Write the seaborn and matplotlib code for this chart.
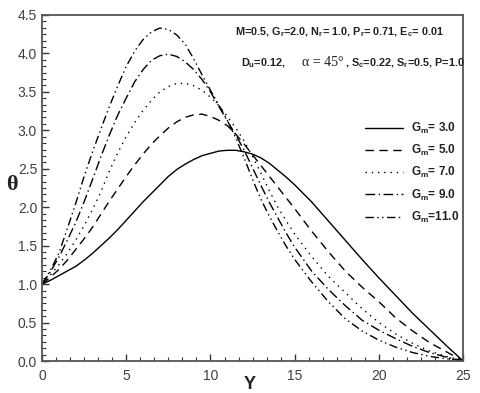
import numpy as np
import pandas as pd
import matplotlib
matplotlib.use('Agg')
import matplotlib.pyplot as plt
from matplotlib.ticker import MultipleLocator, FormatStrFormatter
import seaborn as sns

# values
y_pos = [0, 0.5, 1, 1.5, 2, 2.5, 3, 3.5, 4, 4.5, 5, 5.5, 6, 6.5, 7, 7.5, 8, 8.5, 9, 9.5,
         10, 10.5, 11, 11.5, 12, 12.5, 13, 13.5, 14, 14.5, 15,
         16, 17, 18, 19, 20, 21, 22, 23, 24, 25]
theta_gm3 = [1.00, 1.05, 1.11, 1.17, 1.23, 1.31, 1.40, 1.50, 1.60, 1.71, 1.83, 1.95, 2.07,
             2.18, 2.29, 2.40, 2.49, 2.56, 2.62, 2.67, 2.70, 2.73, 2.74, 2.74, 2.72, 2.69,
             2.64, 2.57, 2.48, 2.39, 2.29,
             2.07, 1.82, 1.57, 1.32, 1.08, 0.85, 0.62, 0.41, 0.20, 0.00]
theta_gm5 = [1.00, 1.09, 1.19, 1.31, 1.45, 1.59, 1.74, 1.91, 2.08, 2.24, 2.40, 2.55, 2.69,
             2.82, 2.93, 3.03, 3.11, 3.17, 3.20, 3.21, 3.18, 3.13, 3.06, 2.95, 2.82, 2.68,
             2.54, 2.40, 2.26, 2.12, 1.98,
             1.69, 1.42, 1.17, 0.96, 0.77, 0.56, 0.39, 0.24, 0.12, 0.00]
theta_gm7 = [1.00, 1.12, 1.25, 1.40, 1.57, 1.76, 1.97, 2.20, 2.47, 2.71, 2.92, 3.10, 3.26,
             3.39, 3.50, 3.57, 3.61, 3.61, 3.58, 3.52, 3.43, 3.32, 3.18, 3.03, 2.86, 2.66,
             2.44, 2.21, 2.00, 1.82, 1.65,
             1.36, 1.10, 0.89, 0.68, 0.50, 0.35, 0.23, 0.13, 0.06, 0.00]
theta_gm9 = [1.00, 1.16, 1.35, 1.57, 1.80, 2.07, 2.36, 2.66, 2.94, 3.20, 3.42, 3.63, 3.79,
             3.91, 3.97, 3.99, 3.96, 3.89, 3.79, 3.66, 3.50, 3.31, 3.12, 2.94, 2.74, 2.51,
             2.28, 2.06, 1.86, 1.66, 1.48,
             1.17, 0.93, 0.72, 0.53, 0.40, 0.29, 0.19, 0.11, 0.05, 0.00]
theta_gm11 = [1.00, 1.18, 1.40, 1.72, 2.05, 2.40, 2.72, 3.02, 3.31, 3.58, 3.83, 4.03, 4.18,
              4.28, 4.33, 4.31, 4.24, 4.12, 3.93, 3.72, 3.52, 3.33, 3.13, 2.90, 2.64, 2.36,
              2.10, 1.88, 1.68, 1.49, 1.32,
              1.03, 0.77, 0.55, 0.39, 0.27, 0.18, 0.11, 0.06, 0.03, 0.00]

labels = [r'G$_\mathbf{m}$= 3.0', r'G$_\mathbf{m}$= 5.0', r'G$_\mathbf{m}$= 7.0',
          r'G$_\mathbf{m}$= 9.0', r'G$_\mathbf{m}$=11.0']
series = [theta_gm3, theta_gm5, theta_gm7, theta_gm9, theta_gm11]
dash_styles = ['-', (0, (6, 4)), (0, (1, 3.5)), (0, (7, 2.5, 1, 2.5)),
               (0, (6, 2.5, 1, 2.5, 1, 2.5))]

sns.set_style('ticks')
plt.rcParams['font.family'] = ['Liberation Sans', 'DejaVu Sans']
plt.rcParams['mathtext.fontset'] = 'custom'
plt.rcParams['mathtext.rm'] = 'Liberation Sans'
plt.rcParams['mathtext.bf'] = 'Liberation Sans:bold'
plt.rcParams['mathtext.it'] = 'Liberation Sans:italic'

fig = plt.figure(figsize=(4.8, 3.93), dpi=100)
ax = fig.add_axes([0.0875, 0.0814, 0.8775, 0.8806])

for vals, lab, ls in zip(series, labels, dash_styles):
    df = pd.DataFrame({'Y': y_pos, 'theta': vals})
    sns.lineplot(data=df, x='Y', y='theta', ax=ax, color='black', linewidth=1.0,
                 linestyle=ls, label=lab)

ax.set_xlim(0, 25)
ax.set_ylim(0, 4.5)
ax.xaxis.set_major_locator(MultipleLocator(5))
ax.xaxis.set_minor_locator(MultipleLocator(5 / 6))
ax.yaxis.set_major_locator(MultipleLocator(0.5))
ax.yaxis.set_minor_locator(MultipleLocator(0.5 / 6))
ax.xaxis.set_major_formatter(FormatStrFormatter('%d'))
ax.yaxis.set_major_formatter(FormatStrFormatter('%.1f'))
ax.tick_params(which='both', direction='in', top=False, right=False,
               labelsize=10, labelcolor='#404040', color='#333333')
ax.tick_params(axis='x', which='major', pad=6)
ax.tick_params(which='major', length=5, width=1.0)
ax.tick_params(which='minor', length=3, width=0.8)
for sp in ax.spines.values():
    sp.set_color('#555555')
    sp.set_linewidth(1.3)

ax.set_xlabel('Y', fontsize=13, fontweight='bold', color='#222222')
ax.xaxis.set_label_coords(0.494, -0.043)
ax.set_ylabel('θ', fontsize=16, fontweight='bold', rotation=0, va='center',
              family=['Liberation Serif', 'DejaVu Serif'], color='#222222')
ax.yaxis.set_label_coords(-0.071, 0.509)

leg = ax.legend(loc='upper left', bbox_to_anchor=(365 / 480, 1 - 121 / 393),
                bbox_transform=fig.transFigure, frameon=False, borderpad=0,
                borderaxespad=0, handlelength=3.2, handletextpad=0.7,
                labelspacing=0.6, prop={'weight': 'bold', 'size': 8.5})
for t in leg.get_texts():
    t.set_color('#222222')

txt = dict(fontsize=7.8, fontweight='bold', color='#222222', va='center',
           transform=fig.transFigure)
fig.text(235 / 480, 1 - 32 / 393,
         r'M=0.5, G$_\mathbf{r}$=2.0, N$_\mathbf{r}$= 1.0, P$_\mathbf{r}$= 0.71, E$_\mathbf{c}$= 0.01',
         **txt)
fig.text(241 / 480, 1 - 63 / 393, r'D$_\mathbf{u}$=0.12,', **txt)
fig.text(302 / 480, 1 - 63 / 393, 'α = 45°', fontsize=10, color='#222222', va='center',
         family=['Liberation Serif', 'DejaVu Serif'], transform=fig.transFigure)
fig.text(345 / 480, 1 - 63 / 393,
         r', S$_\mathbf{c}$=0.22, S$_\mathbf{r}$=0.5, P=1.0', **txt)

fig.savefig('out.png', dpi=100)
